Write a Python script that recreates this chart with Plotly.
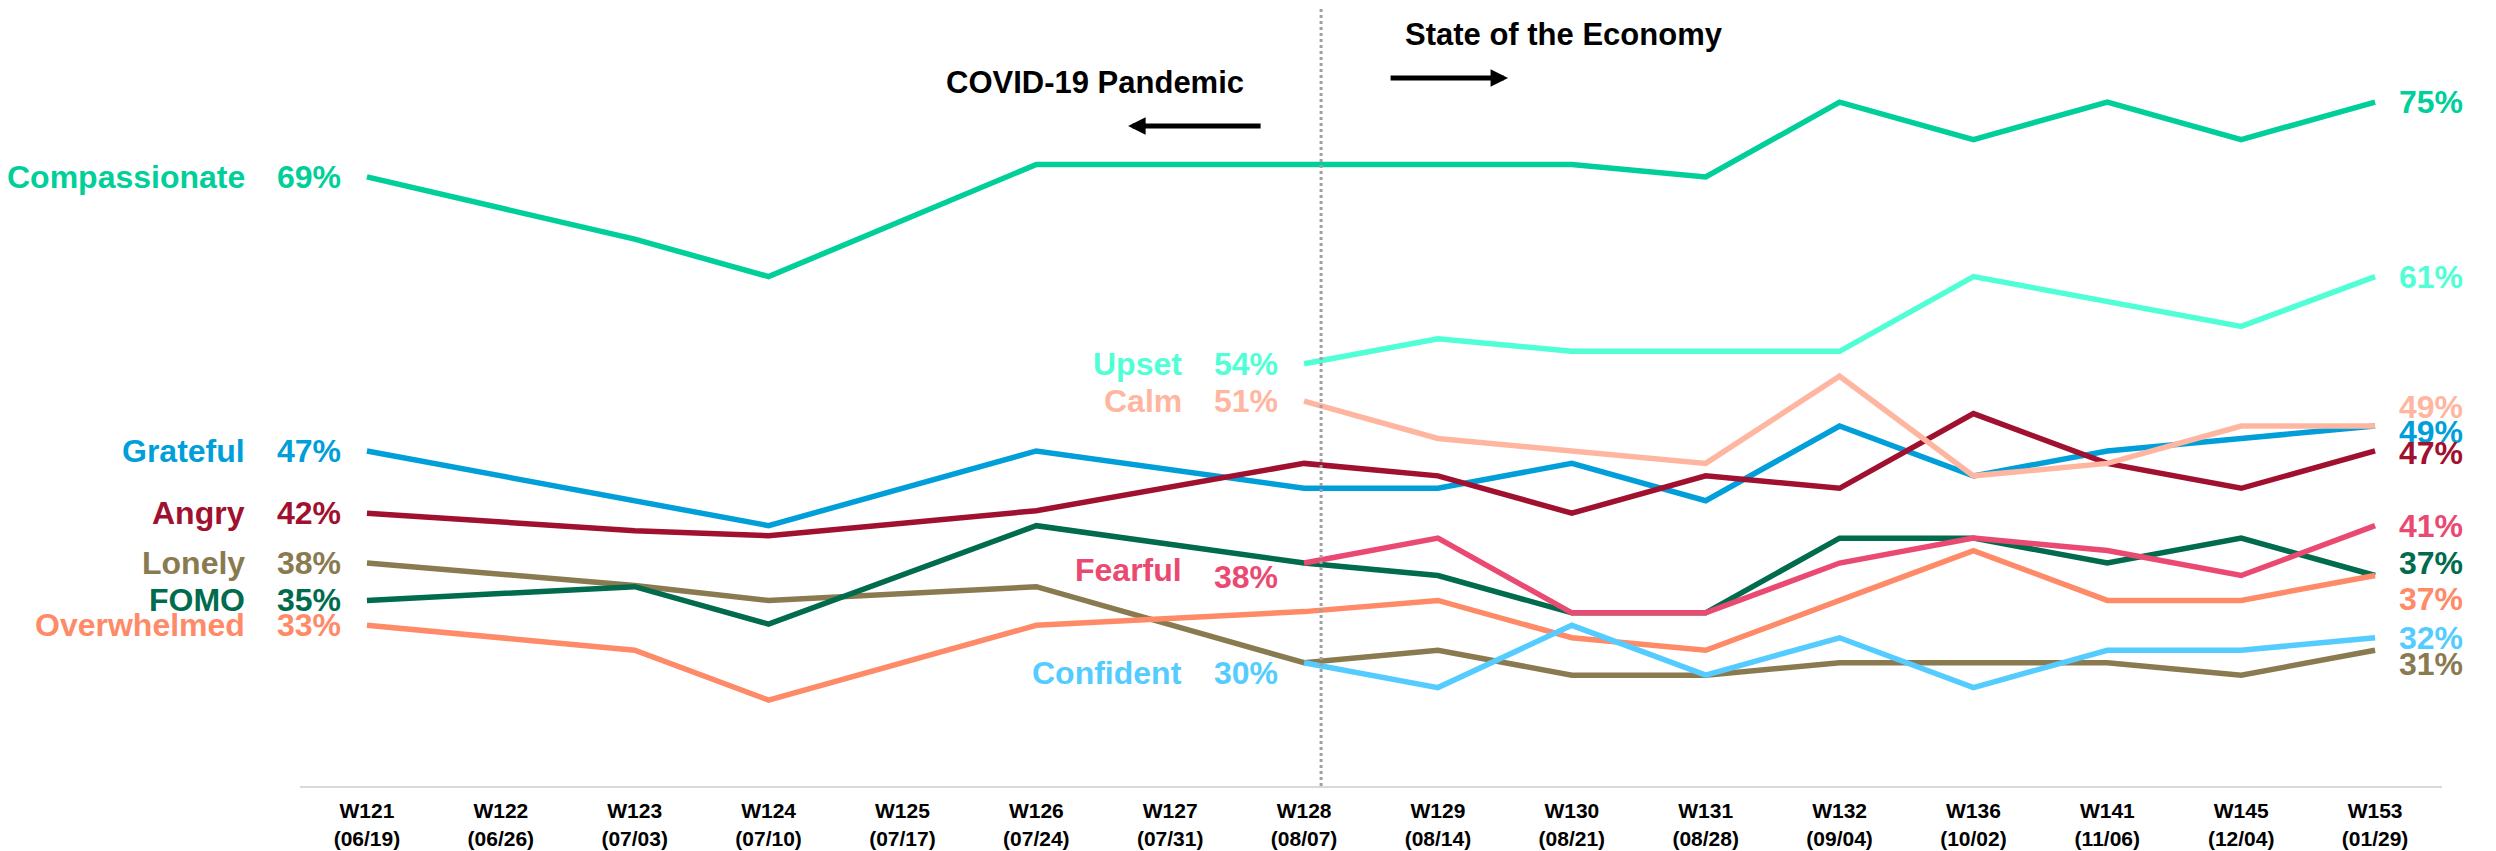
import plotly.graph_objects as go

# Survey waves (x axis)
waves = ['W121', 'W122', 'W123', 'W124', 'W125', 'W126', 'W127', 'W128',
         'W129', 'W130', 'W131', 'W132', 'W136', 'W141', 'W145', 'W153']
dates = ['06/19', '06/26', '07/03', '07/10', '07/17', '07/24', '07/31', '08/07',
         '08/14', '08/21', '08/28', '09/04', '10/02', '11/06', '12/04', '01/29']
categories = [w + '<br>(' + d + ')' for w, d in zip(waves, dates)]

N = None
# % of respondents feeling each emotion (None = not asked that wave)
compassionate = [69, N, 64, 61, N, 70, N, 70, 70, 70, 69, 75, 72, 75, 72, 75]
grateful = [47, N, 43, 41, N, 47, N, 44, 44, 46, 43, 49, 45, 47, 48, 49]
angry = [42, N, 40.6, 40.2, N, 42.2, N, 46, 45, 42, 45, 44, 50, 46, 44, 47]
lonely = [38, N, 36.2, 35, N, 36.1, N, 30, 31, 29, 29, 30, 30, 30, 29, 31]
fomo = [35, N, 36.1, 33.1, N, 41, N, 38, 37, 34, 34, 40, 40, 38, 40, 37]
overwhelmed = [33, N, 31, 27, N, 33, N, 34.1, 35, 32, 31, 35, 39, 35, 35, 37]
upset = [N, N, N, N, N, N, N, 54, 56, 55, 55, 55, 61, 59, 57, 61]
calm = [N, N, N, N, N, N, N, 51, 48, 47, 46, 53, 45, 46, 49, 49]
fearful = [N, N, N, N, N, N, N, 38, 40, 34, 34, 38, 40, 39, 37, 41]
confident = [N, N, N, N, N, N, N, 30, 28, 33, 29, 32, 28, 31, 31, 32]

# name, values, colour, yshift of start label, yshift of end label
series = [
    ('Compassionate', compassionate, '#00CF9A', 0, 0),
    ('Grateful', grateful, '#009FDA', 0, -6),
    ('Angry', angry, '#A0102F', 0, -2),
    ('Lonely', lonely, '#8A7A50', 0, -14),
    ('FOMO', fomo, '#006B4D', 0, 12),
    ('Overwhelmed', overwhelmed, '#FF8A68', 0, -24),
    ('Upset', upset, '#50FFD5', 0, 0),
    ('Calm', calm, '#FFB6A0', 0, 19),
    ('Fearful', fearful, '#EA4A72', -10, 0),
    ('Confident', confident, '#55CCFF', -10, 0),
]

FONT = 'Arial, Liberation Sans, sans-serif'

fig = go.Figure()
annotations = []

for name, vals, color, ys_start, ys_end in series:
    fig.add_trace(go.Scatter(x=categories, y=vals, mode='lines', name=name,
                             connectgaps=True,
                             line=dict(color=color, width=5.5),
                             hoverinfo='skip', showlegend=False))
    idx = [i for i, v in enumerate(vals) if v is not None]
    first, last = idx[0], idx[-1]
    lbl_font = dict(family=FONT, size=32, color=color, weight='bold')
    # label at start of line: name + value
    annotations.append(dict(x=categories[first], y=vals[first], text=name,
                            showarrow=False, xanchor='right', xshift=-120,
                            yshift=ys_start + (3 if name == 'Fearful' else 0),
                            font=lbl_font))
    annotations.append(dict(x=categories[first], y=vals[first],
                            text='%d%%' % round(vals[first]),
                            showarrow=False, xanchor='right', xshift=-24,
                            yshift=ys_start - (4 if name == 'Fearful' else 0),
                            font=lbl_font))
    # value at end of line
    annotations.append(dict(x=categories[last], y=vals[last],
                            text='%d%%' % round(vals[last]),
                            showarrow=False, xanchor='left', xshift=22,
                            yshift=ys_end, font=lbl_font))

# period captions with arrows
title_font = dict(family=FONT, size=31, color='black', weight='bold')
annotations += [
    dict(xref='paper', yref='paper', x=0.590, y=0.9653, text='State of the Economy',
         showarrow=False, xanchor='center', yanchor='middle', font=title_font),
    dict(xref='paper', yref='paper', x=0.3711, y=0.9036, text='COVID-19 Pandemic',
         showarrow=False, xanchor='center', yanchor='middle', font=title_font),
    dict(xref='paper', yref='paper', x=0.564, y=0.910, text='', showarrow=True,
         ax=-119, ay=0, arrowhead=2, arrowsize=0.7, arrowwidth=5, arrowcolor='black'),
    dict(xref='paper', yref='paper', x=0.3866, y=0.8483, text='', showarrow=True,
         ax=134, ay=0, arrowhead=2, arrowsize=0.7, arrowwidth=5, arrowcolor='black'),
]

# divider between the two periods
fig.add_shape(type='line', xref='paper', yref='paper', x0=0.4767, x1=0.4767, y0=0, y1=1,
              line=dict(color='#A0A0A0', width=3, dash='dot'))

fig.update_xaxes(type='category', categoryorder='array', categoryarray=categories,
                 range=[-0.5, 15.5],
                 showline=True, linecolor='#D9D9D9', linewidth=2,
                 showgrid=False, zeroline=False, ticks='', ticklabelstandoff=5,
                 tickfont=dict(family=FONT, size=21, color='black', weight='bold'))
fig.update_yaxes(visible=False, range=[20.1, 82.56], showgrid=False, zeroline=False)

fig.update_layout(
    width=2496, height=851,
    margin=dict(l=292, r=62, t=0, b=73),
    plot_bgcolor='white', paper_bgcolor='white',
    annotations=annotations,
    showlegend=False,
    font=dict(family=FONT),
)

fig.write_html("out.html")
